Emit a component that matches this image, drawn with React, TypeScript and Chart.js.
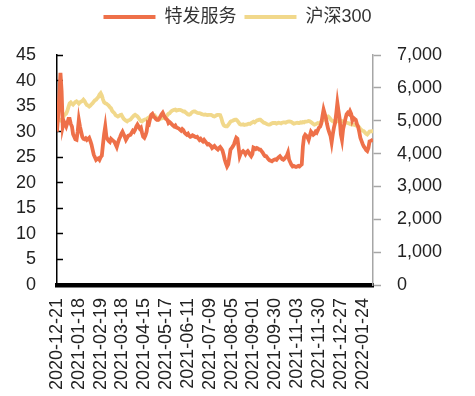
import React, { useEffect, useRef } from 'react';
import { Chart, registerables } from 'chart.js';

Chart.register(...registerables);

const seriesNames = ['特发服务', '沪深300'];
const dateTicks = [
  '2020-12-21', '2021-01-18', '2021-02-19', '2021-03-18', '2021-04-15', '2021-05-17', '2021-06-11',
  '2021-07-09', '2021-08-05', '2021-09-01', '2021-09-30', '2021-11-03', '2021-11-30', '2021-12-27', '2022-01-24',
];
const tickStep = 19;

const tefaValues = [
  30, 33, 37, 41.5, 38, 31, 32, 31.5,
  31, 31.7, 32.5, 32.5, 31.5, 31, 29.5, 29, 28.5, 28.4, 30, 32.3, 31, 30,
  29, 28.6, 28.5, 28.7, 28.4, 28.6, 28.8, 28.2, 27.5, 26.5, 25.5, 25, 24.5, 24.7,
  24.8, 24.5, 25, 25.3, 27.5, 29.5, 31, 29, 28.5, 28.2, 28, 28.6, 28.4, 28.2,
  28, 27.5, 27, 27.8, 28.5, 29, 29.6, 30, 29.5, 29, 28.4, 28.8, 29.2, 29.3,
  29.4, 29.8, 30.2, 30, 30.4, 31, 31.4, 31, 30.6, 30.8, 29.8, 29, 28.8, 29.3,
  30, 31.7, 31.5, 32.5, 33.3, 33.5, 33, 32.8, 32.5, 32.3, 32.3, 32.6, 33, 33.4,
  33.7, 33.2, 32.8, 32.5, 32.3, 31.7, 31.9, 31.7, 31.4, 31.2, 31, 31.2, 30.8, 30.7,
  30.6, 30.4, 30.2, 30.5, 30.3, 29.8, 29.6, 29.4, 29.6, 29.2, 29, 29.1, 29.3, 29.2,
  29, 28.9, 29, 28.7, 28.4, 28.6, 28.3, 28.1, 28.4, 28.1, 27.8, 27.5, 27.6, 27.4,
  27.2, 26.8, 27, 27.2, 26.9, 26.7, 26.5, 26.8, 27, 26.7, 26.3, 25.5, 24.5, 23.8,
  23.2, 23.6, 25, 26.5, 26.8, 27.1, 27.5, 28.2, 28.8, 28.6, 27, 25.2, 25.8, 26,
  26.2, 26, 25.6, 26, 26.2, 25.9, 25.5, 25.2, 25.6, 26.9, 26.8, 26.6, 26.8, 26.7,
  26.5, 26.5, 26.2, 25.9, 25.5, 25.2, 25.2, 24.9, 24.6, 24.4, 24.3, 24.2, 24.4, 24.5,
  24.6, 24.5, 24.8, 25, 25.2, 24.9, 24.6, 24.5, 24.7, 25, 25.3, 25.9, 24.5, 24,
  23.5, 23.2, 23.3, 23.2, 23.1, 23.2, 23.3, 23.2, 23.4, 23.6, 27.1, 29, 29.4, 29.2,
  28.9, 28.4, 29.2, 30, 29.7, 29.4, 29.6, 30, 29.8, 30.3, 30.8, 31, 31.6, 33,
  34.3, 33.5, 32.7, 31.5, 30.5, 29.8, 29.2, 27.9, 29.5, 30.8, 31.7, 33.5, 35.6, 34,
  32.5, 29.5, 28.4, 30.5, 31.5, 32.5, 33.4, 33.7, 33.5, 34, 33.5, 32.2, 32.7, 32.5,
  32.3, 31.5, 31, 30, 28.8, 28.2, 27.6, 27.1, 26.8, 26.4, 26.2, 26.8, 28.1, 28.2,
  28.3, 28.5,
];

const hs300Values = [
  5080, 5050, 5030, 5010, 5040, 5060, 5150, 5190,
  5220, 5300, 5420, 5530, 5560, 5520, 5490, 5530, 5570, 5590, 5560, 5520, 5560, 5580,
  5600, 5640, 5600, 5530, 5480, 5460, 5430, 5460, 5500, 5530, 5580, 5620, 5640, 5680,
  5720, 5800, 5840, 5770, 5650, 5560, 5530, 5520, 5490, 5460, 5410, 5380, 5300, 5260,
  5230, 5170, 5150, 5130, 5150, 5170, 5180, 5120, 5060, 5030, 5000, 4980, 5010, 5020,
  5040, 5080, 5120, 5160, 5180, 5160, 5130, 5090, 5030, 4990, 4980, 5010, 5030, 5040,
  5050, 5080, 5100, 5130, 5140, 5120, 5140, 5160, 5120, 5060, 5030, 5040, 5060, 5070,
  5080, 5090, 5070, 5110, 5170, 5210, 5230, 5270, 5300, 5320, 5330, 5340, 5310, 5320,
  5330, 5330, 5320, 5300, 5280, 5280, 5250, 5220, 5190, 5180, 5200, 5240, 5270, 5280,
  5280, 5260, 5240, 5230, 5230, 5220, 5200, 5190, 5180, 5190, 5180, 5170, 5180, 5180,
  5180, 5160, 5140, 5130, 5150, 5170, 5180, 5180, 5170, 5080, 4950, 4870, 4840, 4830,
  4830, 4870, 4920, 4970, 4990, 5000, 5020, 5030, 5030, 5000, 4950, 4900, 4880, 4880,
  4890, 4870, 4880, 4880, 4900, 4910, 4900, 4930, 4950, 4970, 4950, 4980, 5010, 5020,
  5030, 5030, 5000, 4970, 4940, 4930, 4910, 4890, 4880, 4880, 4900, 4920, 4930, 4930,
  4930, 4910, 4930, 4940, 4930, 4920, 4940, 4950, 4950, 4940, 4960, 4970, 4980, 4970,
  4960, 4930, 4910, 4920, 4930, 4940, 4930, 4930, 4950, 4940, 4960, 4950, 4970, 4975,
  4980, 4990, 4980, 4960, 4930, 4900, 4880, 4890, 4910, 4930, 4920, 4930, 4980, 5000,
  5030, 5080, 5100, 5120, 5130, 5100, 5050, 5010, 4980, 4990, 4980, 4970, 4990, 4985,
  4980, 4970, 4990, 4980, 4970, 4950, 4940, 4930, 4920, 4900, 4890, 4880, 4880, 4870,
  4860, 4840, 4830, 4800, 4750, 4720, 4690, 4680, 4640, 4600, 4580, 4620, 4670, 4675,
  4680, 4680,
];

const ORANGE = '#EE7049';
const YELLOW = '#F1D88B';
const FONT = "'Liberation Sans', Arial, 'Noto Sans CJK SC', sans-serif";
const PLOT_TOP = 55;

const legendHeightPlugin = {
  id: 'legendHeight',
  beforeLayout(chart: any) {
    const lg = chart.legend;
    if (lg && !lg._heightPatched) {
      const orig = lg.fit.bind(lg);
      lg.fit = function () {
        orig();
        this.height = PLOT_TOP;
      };
      lg._heightPatched = true;
    }
  },
};

export default function App() {
  const ref = useRef<HTMLCanvasElement>(null);

  useEffect(() => {
    if (!ref.current) return;
    const chart = new Chart(ref.current, {
      type: 'line',
      plugins: [legendHeightPlugin],
      data: {
        datasets: [
          {
            label: seriesNames[0],
            data: tefaValues.map((v, i) => ({ x: i, y: v })),
            yAxisID: 'y',
            borderColor: ORANGE,
            backgroundColor: ORANGE,
            borderWidth: 3.8,
            pointRadius: 0,
            tension: 0,
          },
          {
            label: seriesNames[1],
            data: hs300Values.map((v, i) => ({ x: i, y: v })),
            yAxisID: 'y1',
            borderColor: YELLOW,
            backgroundColor: YELLOW,
            borderWidth: 3.8,
            pointRadius: 0,
            tension: 0,
          },
        ],
      },
      options: {
        animation: false,
        responsive: true,
        maintainAspectRatio: false,
        layout: { padding: 0 },
        font: { family: FONT, size: 18 },
        plugins: {
          tooltip: { enabled: false },
          legend: {
            display: true,
            position: 'top',
            labels: {
              font: { family: FONT, size: 18 },
              color: '#333',
              boxWidth: 52,
              boxHeight: 4,
              padding: 8,
              generateLabels: (c: any) =>
                c.data.datasets.map((ds: any, i: number) => ({
                  text: ds.label,
                  fillStyle: ds.borderColor,
                  strokeStyle: ds.borderColor,
                  lineWidth: 0,
                  hidden: false,
                  datasetIndex: i,
                  fontColor: '#333',
                })),
            },
          },
        },
        scales: {
          x: {
            type: 'linear',
            position: 'bottom',
            min: 0,
            max: tefaValues.length - 1,
            grid: { display: false, drawTicks: false },
            border: { display: true, color: '#000', width: 4.5 },
            afterBuildTicks: (scale: any) => {
              scale.ticks = dateTicks.map((_, k) => ({ value: k * tickStep }));
            },
            afterFit: (scale: any) => {
              scale.height = 111;
            },
            ticks: {
              autoSkip: false,
              maxRotation: 90,
              minRotation: 90,
              padding: 13,
              color: '#222',
              font: { family: FONT, size: 18 },
              callback: (value: any) => {
                const k = Math.round(Number(value) / tickStep);
                return dateTicks[k] ?? '';
              },
            },
          },
          y: {
            type: 'linear',
            position: 'left',
            min: 0,
            max: 45,
            grid: {
              drawOnChartArea: false,
              drawTicks: true,
              tickLength: -6,
              color: '#000',
              tickWidth: 1.5,
            },
            border: { display: true, color: '#000', width: 1.5 },
            afterFit: (scale: any) => {
              scale.width = 57;
              scale.paddingTop = PLOT_TOP;
            },
            ticks: {
              stepSize: 5,
              padding: 27,
              color: '#222',
              font: { family: FONT, size: 18 },
            },
          },
          y1: {
            type: 'linear',
            position: 'right',
            min: 0,
            max: 7000,
            grid: {
              drawOnChartArea: false,
              drawTicks: true,
              tickLength: 8,
              color: '#a6a6a6',
              tickWidth: 1.5,
            },
            border: { display: true, color: '#a6a6a6', width: 1.5 },
            afterFit: (scale: any) => {
              scale.width = 102;
            },
            ticks: {
              stepSize: 1000,
              padding: 16,
              color: '#222',
              font: { family: FONT, size: 18 },
              callback: (value: any) => Number(value).toLocaleString('en-US'),
            },
          },
        },
      },
    });
    return () => chart.destroy();
  }, []);

  return (
    <div style={{ position: 'absolute', left: 0, top: 0, width: 475, height: 396, background: '#fff' }}>
      <canvas ref={ref} />
    </div>
  );
}
